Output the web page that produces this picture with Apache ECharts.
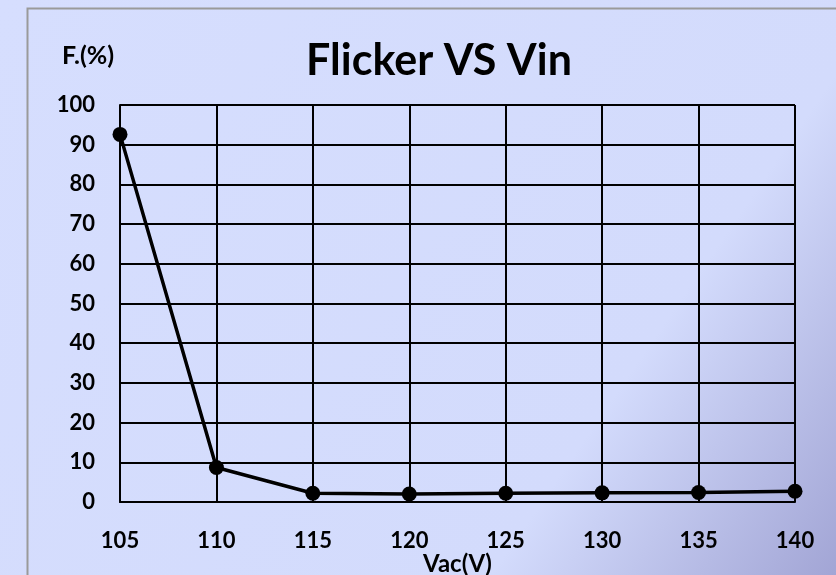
<!DOCTYPE html>
<html>
<head>
<meta charset="utf-8">
<script src="https://cdn.jsdelivr.net/npm/echarts@6/dist/echarts.min.js"></script>
<style>
  html, body { margin: 0; padding: 0; }
  #chart { width: 836px; height: 575px; }
</style>
</head>
<body>
<div id="chart"></div>
<script>
// 输入电压 / 闪烁
var vin = [105, 110, 115, 120, 125, 130, 135, 140];
var flicker = [92.6, 8.7, 2.2, 2.0, 2.2, 2.3, 2.4, 2.7];

var pts = vin.map(function (v, i) { return [v, flicker[i]]; });

var myChart = echarts.init(document.getElementById('chart'));
var font = 'Lato, "Open Sans", sans-serif';
var option = {
    backgroundColor: {
        type: 'linear', x: 0, y: 0, x2: 1, y2: 1,
        colorStops: [
            { offset: 0, color: '#d6defe' },
            { offset: 0.72, color: '#d3dbfc' },
            { offset: 1, color: '#a2a5d5' }
        ]
    },
    title: {
        text: 'Flicker VS Vin',
        left: 434, top: 35, textAlign: 'center',
        textStyle: { fontFamily: font, fontWeight: 'bold', fontSize: 43, color: '#000' }
    },
    graphic: [
        {
            type: 'rect', left: 25, top: 6,
            shape: { width: 840, height: 600 },
            style: { fill: 'none', stroke: '#9a9a9a', lineWidth: 2 }
        },
        {
            type: 'text', left: 62, top: 43,
            style: { text: 'F.(%)', fontFamily: font, fontWeight: 'bold', fontSize: 25, fill: '#000' }
        }
    ],
    grid: { left: 120, right: 41, top: 105, bottom: 73, outerBoundsMode: 'none', containLabel: false },
    xAxis: {
        type: 'value', min: 105, max: 140, interval: 5,
        name: 'Vac(V)', nameLocation: 'middle', nameGap: 50, nameMoveOverlap: false,
        nameTextStyle: { fontFamily: font, fontWeight: 'bold', fontSize: 24, color: '#000' },
        axisLine: { lineStyle: { color: '#000', width: 2 } },
        axisTick: { show: false },
        axisLabel: { margin: 28, fontFamily: font, fontWeight: 'bold', fontSize: 22, color: '#000' },
        splitLine: { show: true, lineStyle: { color: '#000', width: 2 } }
    },
    yAxis: {
        type: 'value', min: 0, max: 100, interval: 10,
        axisLine: { show: true, lineStyle: { color: '#000', width: 2 } },
        axisTick: { show: false },
        axisLabel: { margin: 25, fontFamily: font, fontWeight: 'bold', fontSize: 22, color: '#000' },
        splitLine: { show: true, lineStyle: { color: '#000', width: 2 } }
    },
    series: [{
        type: 'line',
        data: pts,
        symbol: 'circle', symbolSize: 15,
        lineStyle: { color: '#000', width: 3.5 },
        itemStyle: { color: '#000' },
        clip: false
    }]
};
myChart.setOption(option);
</script>
</body>
</html>
